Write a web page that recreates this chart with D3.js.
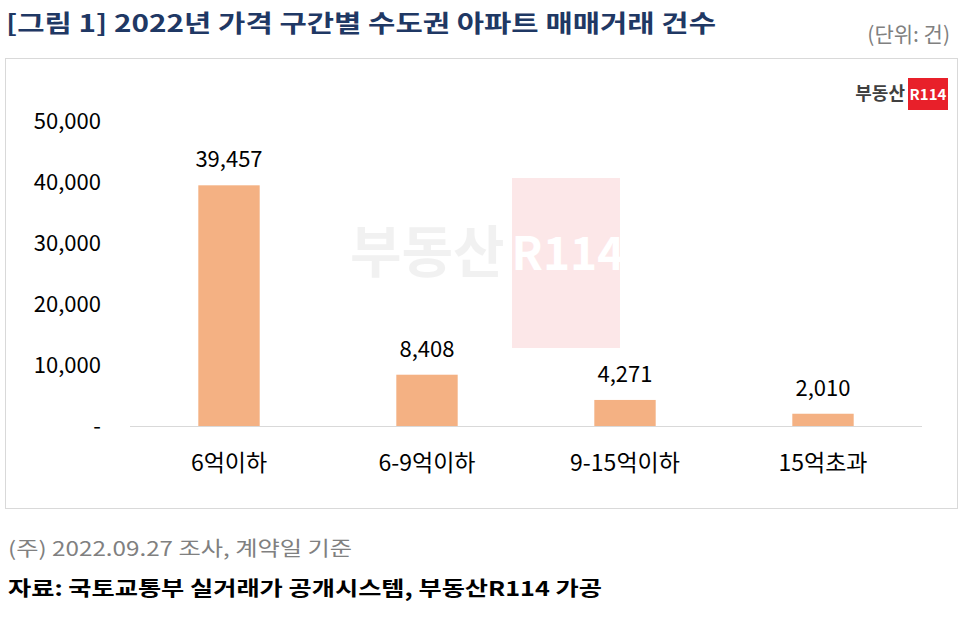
<!DOCTYPE html>
<html><head><meta charset="utf-8">
<script src="https://cdn.jsdelivr.net/npm/d3@7"></script>
<style>body{margin:0;background:#fff;font-family:"Noto Sans CJK KR","Noto Sans",sans-serif;}</style>
</head><body><svg id="c" width="969" height="624"></svg>
<script>
const categories = ["6억이하", "6-9억이하", "9-15억이하", "15억초과"];
const values = [39457, 8408, 4271, 2010];
const yTicks = [0, 10000, 20000, 30000, 40000, 50000];

const svg = d3.select("#c");
const F = "'Noto Sans CJK KR', sans-serif";

// title
svg.append("text").attr("x", 6).attr("y", 32).attr("font-family", F)
  .attr("font-size", 24).attr("font-weight", "bold").attr("fill", "#1f3864")
  .attr("textLength", 710).attr("lengthAdjust", "spacingAndGlyphs")
  .text("[그림 1] 2022년 가격 구간별 수도권 아파트 매매거래 건수");
svg.append("text").attr("x", 950).attr("y", 42).attr("text-anchor", "end").attr("font-family", F)
  .attr("font-size", 21).attr("fill", "#808080").text("(단위: 건)");

// chart frame
svg.append("rect").attr("x", 5.5).attr("y", 58.5).attr("width", 952).attr("height", 450)
  .attr("fill", "none").attr("stroke", "#d9d9d9");

// watermark
const wm = svg.append("g").attr("opacity", 0.1);
wm.append("text").attr("x", 350).attr("y", 272).attr("font-family", F).attr("font-size", 56)
  .attr("font-weight", "bold").attr("fill", "#7f7f7f").text("부동산");
wm.append("rect").attr("x", 512).attr("y", 178).attr("width", 108).attr("height", 170).attr("fill", "#e8202a");
wm.append("text").attr("x", 568).attr("y", 270).attr("text-anchor", "middle").attr("font-family", F).attr("font-size", 46)
  .attr("font-weight", "bold").attr("fill", "#fff").text("R114");

// logo
svg.append("text").attr("x", 905).attr("y", 100).attr("text-anchor", "end").attr("font-family", F)
  .attr("font-size", 18).attr("font-weight", "bold").attr("fill", "#404040").text("부동산");
svg.append("rect").attr("x", 908).attr("y", 78).attr("width", 40).attr("height", 32).attr("fill", "#e8202a");
svg.append("text").attr("x", 928).attr("y", 100).attr("text-anchor", "middle").attr("font-family", F)
  .attr("font-size", 15).attr("font-weight", "bold").attr("fill", "#fff").text("R114");

const x = d3.scaleBand().domain(categories).range([130, 922]).paddingInner(0.69).paddingOuter(0.345);
const y = d3.scaleLinear().domain([0, 50000]).range([426, 121]);

svg.append("g").selectAll("text").data(yTicks).join("text")
  .attr("x", 101).attr("y", d => y(d) + 8).attr("text-anchor", "end")
  .attr("font-family", F).attr("font-size", 22).attr("fill", "#000")
  .text(d => d === 0 ? "-" : d3.format(",")(d));

svg.append("line").attr("x1", 130).attr("x2", 922).attr("y1", y(0) + 0.5).attr("y2", y(0) + 0.5)
  .attr("stroke", "#d9d9d9");

svg.append("g").selectAll("rect").data(values).join("rect")
  .attr("x", (d, i) => x(categories[i])).attr("width", x.bandwidth())
  .attr("y", d => y(d)).attr("height", d => y(0) - y(d)).attr("fill", "#f4b183");

svg.append("g").selectAll("text").data(values).join("text")
  .attr("x", (d, i) => x(categories[i]) + x.bandwidth() / 2).attr("y", d => y(d) - 18)
  .attr("text-anchor", "middle").attr("font-family", F).attr("font-size", 22)
  .text(d => d3.format(",")(d));

svg.append("g").selectAll("text").data(categories).join("text")
  .attr("x", d => x(d) + x.bandwidth() / 2).attr("y", 471)
  .attr("text-anchor", "middle").attr("font-family", F).attr("font-size", 23).text(d => d);

// footnotes
svg.append("text").attr("x", 8).attr("y", 556).attr("font-family", F).attr("font-size", 20)
  .attr("fill", "#808080").attr("textLength", 344).attr("lengthAdjust", "spacingAndGlyphs")
  .text("(주) 2022.09.27 조사, 계약일 기준");
svg.append("text").attr("x", 8).attr("y", 596).attr("font-family", F).attr("font-size", 20)
  .attr("font-weight", "bold").attr("fill", "#000").attr("textLength", 594).attr("lengthAdjust", "spacingAndGlyphs")
  .text("자료: 국토교통부 실거래가 공개시스템, 부동산R114 가공");
</script></body></html>
